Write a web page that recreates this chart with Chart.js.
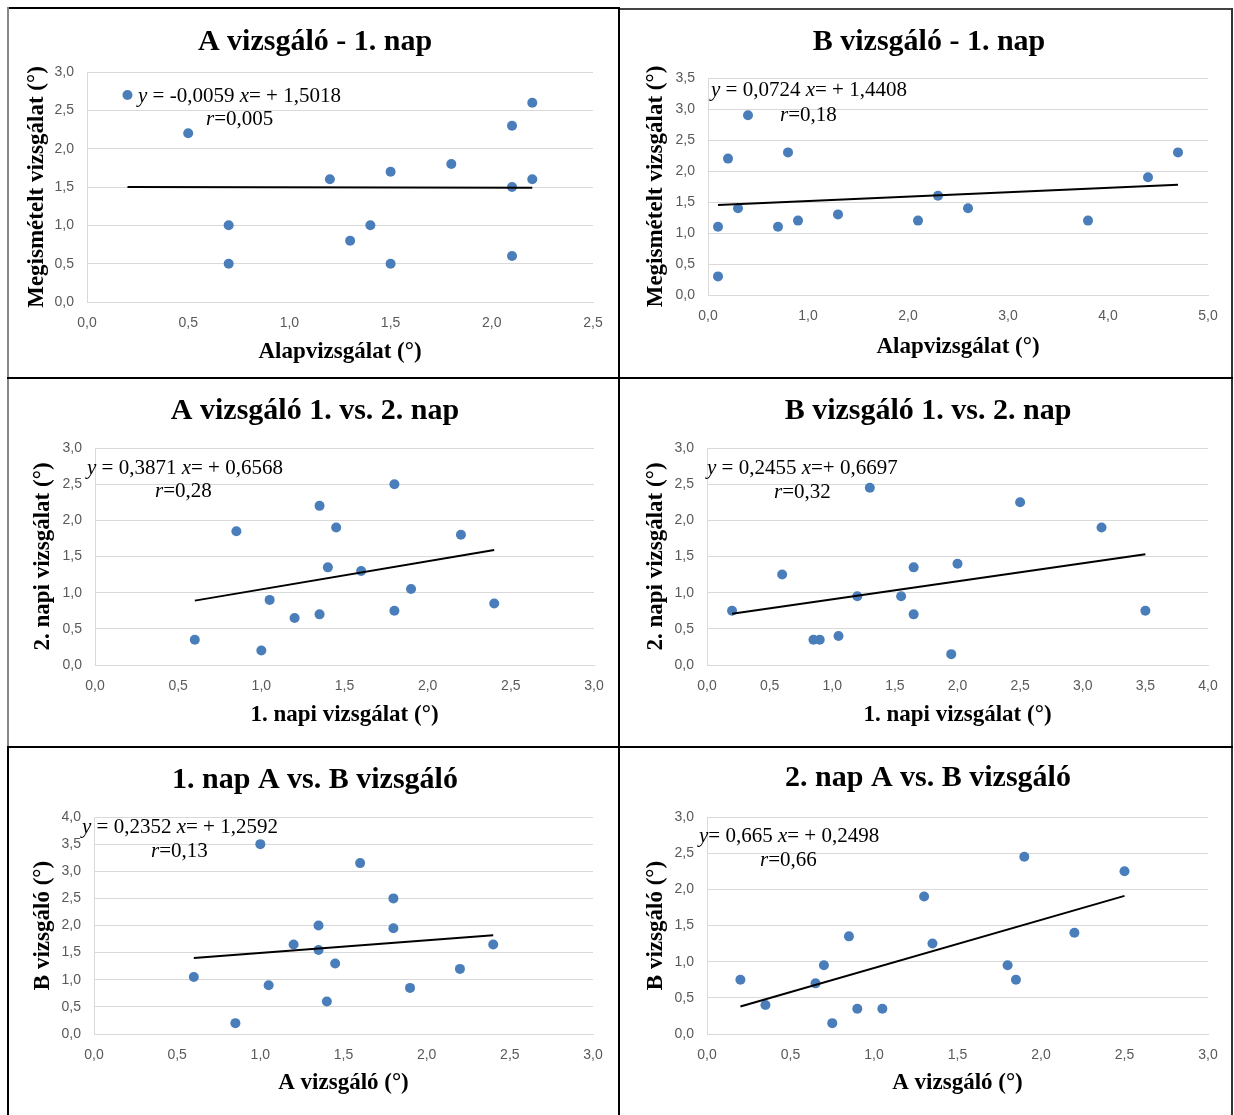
<!DOCTYPE html>
<html lang="hu">
<head>
<meta charset="utf-8">
<title>Vizsgálók összehasonlítása</title>
<script src="https://cdn.jsdelivr.net/npm/chart.js@4.4.1/dist/chart.umd.min.js"></script>
<style>
  html, body { margin: 0; padding: 0; background: #fff; }
  body { position: relative; width: 1234px; height: 1115px; overflow: hidden; }
  .ln { position: absolute; }
  canvas { position: absolute; }
</style>
</head>
<body>
<div class="ln" style="left:7px;top:7px;width:613px;height:2px;background:#000"></div>
<div class="ln" style="left:620px;top:8px;width:613px;height:2px;background:#444"></div>
<div class="ln" style="left:7px;top:7px;width:2px;height:740px;background:#888"></div>
<div class="ln" style="left:7px;top:746px;width:2px;height:369px;background:#000"></div>
<div class="ln" style="left:618px;top:7px;width:2px;height:1108px;background:#000"></div>
<div class="ln" style="left:1231px;top:8px;width:2px;height:1107px;background:#333"></div>
<div class="ln" style="left:7px;top:377px;width:1226px;height:2px;background:#000"></div>
<div class="ln" style="left:7px;top:746px;width:1226px;height:2px;background:#000"></div>

<script>
// A vizsgáló - 1. nap
const p1X = [0.2, 0.5, 0.7, 0.7, 1.2, 1.3, 1.4, 1.5, 1.5, 1.8, 2.1, 2.1, 2.1, 2.2, 2.2];
const p1Y = [2.7, 2.2, 1.0, 0.5, 1.6, 0.8, 1.0, 1.7, 0.5, 1.8, 2.3, 1.5, 0.6, 2.6, 1.6];
const p1TrendX = [0.2, 2.2];
const p1TrendY = [1.50, 1.49];

// B vizsgáló - 1. nap
const p2X = [0.1, 0.1, 0.2, 0.3, 0.4, 0.7, 0.8, 0.9, 1.3, 2.1, 2.3, 2.6, 3.8, 4.4, 4.7];
const p2Y = [1.1, 0.3, 2.2, 1.4, 2.9, 1.1, 2.3, 1.2, 1.3, 1.2, 1.6, 1.4, 1.2, 1.9, 2.3];
const p2TrendX = [0.1, 4.7];
const p2TrendY = [1.45, 1.78];

// A vizsgáló 1. vs. 2. nap
const p3X = [0.6, 0.85, 1.0, 1.05, 1.2, 1.35, 1.35, 1.4, 1.45, 1.6, 1.8, 1.8, 1.9, 2.2, 2.4];
const p3Y = [0.35, 1.85, 0.2, 0.9, 0.65, 2.2, 0.7, 1.35, 1.9, 1.3, 2.5, 0.75, 1.05, 1.8, 0.85];
const p3TrendX = [0.6, 2.4];
const p3TrendY = [0.89, 1.59];

// B vizsgáló 1. vs. 2. nap
const p4X = [0.2, 0.6, 0.85, 0.9, 1.05, 1.2, 1.3, 1.55, 1.65, 1.65, 1.95, 2.0, 2.5, 3.15, 3.5];
const p4Y = [0.75, 1.25, 0.35, 0.35, 0.4, 0.95, 2.45, 0.95, 1.35, 0.7, 0.15, 1.4, 2.25, 1.9, 0.75];
const p4TrendX = [0.2, 3.5];
const p4TrendY = [0.71, 1.53];

// 1. nap A vs. B vizsgáló
const p5X = [0.6, 0.85, 1.0, 1.05, 1.2, 1.35, 1.35, 1.4, 1.45, 1.6, 1.8, 1.8, 1.9, 2.2, 2.4];
const p5Y = [1.05, 0.2, 3.5, 0.9, 1.65, 2.0, 1.55, 0.6, 1.3, 3.15, 2.5, 1.95, 0.85, 1.2, 1.65];
const p5TrendX = [0.6, 2.4];
const p5TrendY = [1.40, 1.82];

// 2. nap A vs. B vizsgáló
const p6X = [0.2, 0.35, 0.65, 0.7, 0.75, 0.85, 0.9, 1.05, 1.3, 1.35, 1.8, 1.85, 1.9, 2.2, 2.5];
const p6Y = [0.75, 0.4, 0.7, 0.95, 0.15, 1.35, 0.35, 0.35, 1.9, 1.25, 0.95, 0.75, 2.45, 1.4, 2.25];
const p6TrendX = [0.2, 2.5];
const p6TrendY = [0.38, 1.91];

const SERIF = '"Liberation Serif", "Times New Roman", serif';
const SANS = '"Liberation Sans", Arial, sans-serif';
const BLUE = "#4a7ebb";
const GRID = "#d9d9d9";
const TITLE_SIZE = 30;
const AXIS_SIZE = 23;
const EQ_SIZE = 21;

// draws the panel title and the regression text
const annotPlugin = {
  id: "annot",
  afterDraw(chart, args, opts) {
    const ctx = chart.ctx;
    ctx.save();
    ctx.fillStyle = "#000";
    ctx.textBaseline = "middle";
    ctx.textAlign = "center";
    ctx.font = "bold " + TITLE_SIZE + "px " + SERIF;
    ctx.fillText(opts.title, opts.titleX, opts.titleY);
    ctx.textAlign = "left";
    opts.lines.forEach(line => {
      let x = line.x;
      line.runs.forEach(([t, it]) => {
        ctx.font = (it ? "italic " : "") + EQ_SIZE + "px " + SERIF;
        ctx.fillText(t, x, line.y);
        x += ctx.measureText(t).width;
      });
    });
    ctx.restore();
  }
};

const fmt = v => Number(v).toFixed(1).replace(".", ",");

function makePanel(cfg) {
  const [bx, by, bw, bh] = cfg.box;
  const canvas = document.createElement("canvas");
  canvas.width = bw;
  canvas.height = bh;
  canvas.style.left = bx + "px";
  canvas.style.top = by + "px";
  canvas.style.width = bw + "px";
  canvas.style.height = bh + "px";
  document.body.appendChild(canvas);

  const al = cfg.area[0] - bx, at = cfg.area[1] - by;
  const ar = cfg.area[2] - bx, ab = cfg.area[3] - by;
  const axLH = AXIS_SIZE * 1.2;
  const yPad = Math.max(0, cfg.yTitleX - bx - axLH / 2);
  const xPad = Math.max(0, bh - (cfg.xTitleY - by) - axLH / 2);

  new Chart(canvas, {
    type: "scatter",
    data: {
      datasets: [
        {
          data: cfg.trendX.map((x, i) => ({ x, y: cfg.trendY[i] })),
          showLine: true,
          borderColor: "#000",
          borderWidth: 2,
          pointRadius: 0,
          order: 0
        },
        {
          data: cfg.xs.map((x, i) => ({ x, y: cfg.ys[i] })),
          backgroundColor: BLUE,
          borderColor: BLUE,
          borderWidth: 0,
          pointRadius: 5,
          order: 1
        }
      ]
    },
    options: {
      responsive: false,
      animation: false,
      events: [],
      layout: { padding: { left: 0, top: at, right: bw - ar, bottom: 0 } },
      plugins: {
        legend: { display: false },
        tooltip: { enabled: false },
        title: { display: false },
        annot: {
          title: cfg.title,
          titleX: cfg.titleX - bx,
          titleY: cfg.titleY - by,
          lines: [
            { x: cfg.eqPos[0] - bx, y: cfg.eqPos[1] - by, runs: cfg.eq },
            { x: cfg.rPos[0] - bx, y: cfg.rPos[1] - by, runs: [["r", true], [cfg.r, false]] }
          ]
        }
      },
      scales: {
        x: {
          type: "linear",
          min: 0,
          max: cfg.xMax,
          grid: { display: false },
          border: { display: true, color: GRID, width: 1 },
          ticks: {
            stepSize: cfg.xStep,
            padding: 5,
            color: "#595959",
            font: { family: SANS, size: 14 },
            callback: fmt
          },
          title: {
            display: true,
            text: cfg.xTitle,
            color: "#000",
            font: { family: SERIF, size: AXIS_SIZE, weight: "bold" },
            padding: { top: xPad, bottom: xPad }
          },
          afterFit(s) { s.height = bh - ab; }
        },
        y: {
          type: "linear",
          min: 0,
          max: cfg.yMax,
          grid: { color: GRID, drawTicks: false },
          border: { display: true, color: GRID, width: 1 },
          ticks: {
            stepSize: 0.5,
            padding: 13,
            color: "#595959",
            font: { family: SANS, size: 14 },
            callback: fmt
          },
          title: {
            display: true,
            text: cfg.yTitle,
            color: "#000",
            font: { family: SERIF, size: AXIS_SIZE, weight: "bold" },
            padding: { top: yPad, bottom: yPad }
          },
          afterFit(s) { s.width = al; }
        }
      }
    },
    plugins: [annotPlugin]
  });
}

const DEG = " (\u00b0)";

makePanel({
  box: [9, 9, 609, 368], area: [87, 72, 593, 302],
  xMax: 2.5, xStep: 0.5, yMax: 3.0,
  title: "A vizsgáló - 1. nap", titleX: 315, titleY: 42,
  xTitle: "Alapvizsgálat" + DEG, xTitleY: 352,
  yTitle: "Megismételt vizsgálat" + DEG, yTitleX: 37,
  xs: p1X, ys: p1Y, trendX: p1TrendX, trendY: p1TrendY,
  eq: [["y", true], [" = -0,0059 ", false], ["x", true], ["= + 1,5018", false]],
  r: "=0,005", eqPos: [138, 96], rPos: [206, 119]
});

makePanel({
  box: [620, 10, 611, 367], area: [708, 78, 1208, 295],
  xMax: 5.0, xStep: 1.0, yMax: 3.5,
  title: "B vizsgáló - 1. nap", titleX: 929, titleY: 42,
  xTitle: "Alapvizsgálat" + DEG, xTitleY: 347,
  yTitle: "Megismételt vizsgálat" + DEG, yTitleX: 656,
  xs: p2X, ys: p2Y, trendX: p2TrendX, trendY: p2TrendY,
  eq: [["y", true], [" = 0,0724 ", false], ["x", true], ["= + 1,4408", false]],
  r: "=0,18", eqPos: [711, 90], rPos: [780, 115]
});

makePanel({
  box: [9, 379, 609, 367], area: [95, 448, 594, 665],
  xMax: 3.0, xStep: 0.5, yMax: 3.0,
  title: "A vizsgáló 1. vs. 2. nap", titleX: 315, titleY: 411,
  xTitle: "1. napi vizsgálat" + DEG, xTitleY: 715,
  yTitle: "2. napi vizsgálat" + DEG, yTitleX: 43,
  xs: p3X, ys: p3Y, trendX: p3TrendX, trendY: p3TrendY,
  eq: [["y", true], [" = 0,3871 ", false], ["x", true], ["= + 0,6568", false]],
  r: "=0,28", eqPos: [87, 468], rPos: [155, 491]
});

makePanel({
  box: [620, 379, 611, 367], area: [707, 448, 1208, 665],
  xMax: 4.0, xStep: 0.5, yMax: 3.0,
  title: "B vizsgáló 1. vs. 2. nap", titleX: 928, titleY: 411,
  xTitle: "1. napi vizsgálat" + DEG, xTitleY: 715,
  yTitle: "2. napi vizsgálat" + DEG, yTitleX: 656,
  xs: p4X, ys: p4Y, trendX: p4TrendX, trendY: p4TrendY,
  eq: [["y", true], [" = 0,2455 ", false], ["x", true], ["=+ 0,6697", false]],
  r: "=0,32", eqPos: [707, 468], rPos: [774, 492]
});

makePanel({
  box: [9, 748, 609, 367], area: [94, 817, 593, 1034],
  xMax: 3.0, xStep: 0.5, yMax: 4.0,
  title: "1. nap A vs. B vizsgáló", titleX: 315, titleY: 780,
  xTitle: "A vizsgáló" + DEG, xTitleY: 1083,
  yTitle: "B vizsgáló" + DEG, yTitleX: 43,
  xs: p5X, ys: p5Y, trendX: p5TrendX, trendY: p5TrendY,
  eq: [["y", true], [" = 0,2352 ", false], ["x", true], ["= + 1,2592", false]],
  r: "=0,13", eqPos: [82, 827], rPos: [151, 851]
});

makePanel({
  box: [620, 748, 611, 367], area: [707, 817, 1208, 1034],
  xMax: 3.0, xStep: 0.5, yMax: 3.0,
  title: "2. nap A vs. B vizsgáló", titleX: 928, titleY: 778,
  xTitle: "A vizsgáló" + DEG, xTitleY: 1083,
  yTitle: "B vizsgáló" + DEG, yTitleX: 656,
  xs: p6X, ys: p6Y, trendX: p6TrendX, trendY: p6TrendY,
  eq: [["y", true], ["= 0,665 ", false], ["x", true], ["= + 0,2498", false]],
  r: "=0,66", eqPos: [699, 836], rPos: [760, 860]
});
</script>
</body>
</html>
